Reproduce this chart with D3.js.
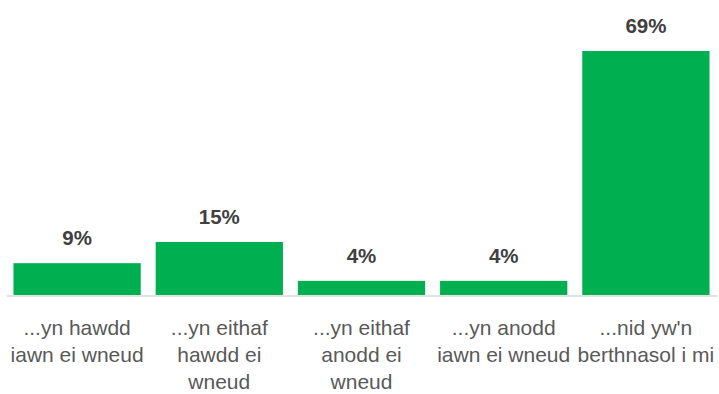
<!DOCTYPE html>
<html><head><meta charset="utf-8">
<script src="https://cdn.jsdelivr.net/npm/d3@7"></script>
<style>html,body{margin:0;padding:0;background:#fff;}svg{display:block;}</style>
</head><body>
<svg id="chart" width="719" height="394"></svg>
<script>
const categories = ["...yn hawdd\niawn ei wneud", "...yn eithaf\nhawdd ei\nwneud", "...yn eithaf\nanodd ei\nwneud", "...yn anodd\niawn ei wneud", "...nid yw'n\nberthnasol i mi"];
const values = [9, 15, 4, 4, 69];
const valueLabels = ["9%", "15%", "4%", "4%", "69%"];

const svg = d3.select("#chart");
const font = "'Liberation Sans', Arial, sans-serif";
const x = d3.scaleBand().domain(categories).range([6, 717]).paddingInner(0.105).paddingOuter(0.0525);
const y = d3.scaleLinear().domain([0, 69]).range([295, 51]);

svg.selectAll("rect.bar").data(values).join("rect")
  .attr("class", "bar")
  .attr("x", (d, i) => x(categories[i]))
  .attr("width", x.bandwidth())
  .attr("y", d => y(d))
  .attr("height", d => y(0) - y(d))
  .attr("fill", "#00B050");

const axis = d3.axisBottom(x).tickSize(0).tickPadding(0).tickFormat("");
const g = svg.append("g").attr("transform", `translate(0,${y(0) + 0.5})`).call(axis);
g.select(".domain").attr("stroke", "#D9D9D9").attr("stroke-width", 1.3);

svg.selectAll("text.val").data(values).join("text")
  .attr("class", "val")
  .attr("x", (d, i) => x(categories[i]) + x.bandwidth() / 2)
  .attr("y", d => y(d) - 18)
  .attr("text-anchor", "middle")
  .attr("font-family", font)
  .attr("font-weight", "bold")
  .attr("font-size", 20.5)
  .attr("fill", "#404040")
  .text((d, i) => valueLabels[i]);

const cat = svg.selectAll("text.cat").data(categories).join("text")
  .attr("class", "cat")
  .attr("x", d => x(d) + x.bandwidth() / 2)
  .attr("y", 335)
  .attr("text-anchor", "middle")
  .attr("font-family", font)
  .attr("font-size", 21)
  .attr("fill", "#595959");
cat.each(function(d) {
  const t = d3.select(this);
  d.split("\n").forEach((line, i) => {
    t.append("tspan").attr("x", x(d) + x.bandwidth() / 2).attr("dy", i === 0 ? 0 : 27).text(line);
  });
});
</script>
</body></html>
